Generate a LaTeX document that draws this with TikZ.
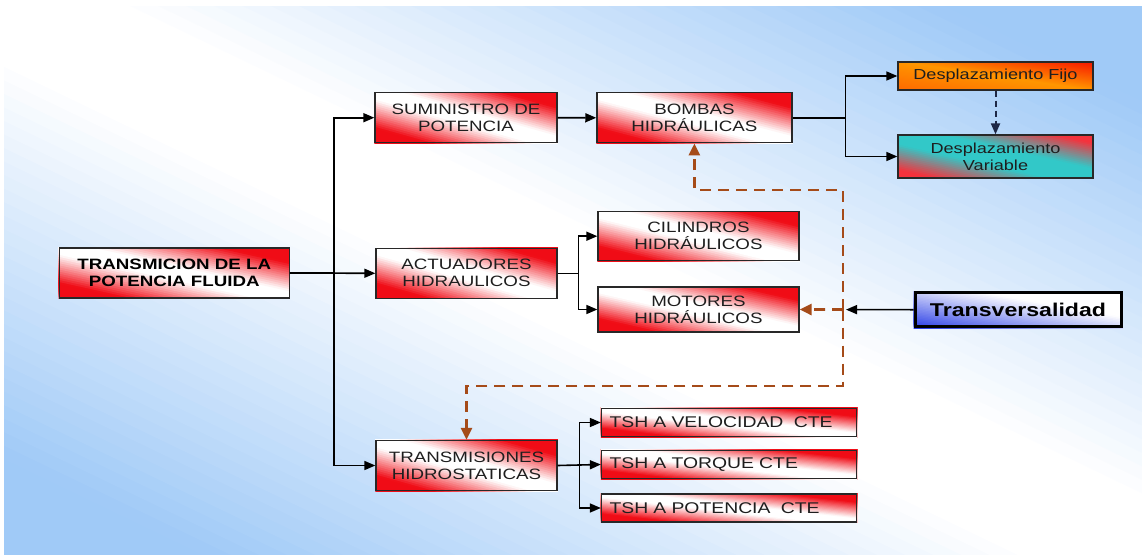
\documentclass[tikz,border=0pt]{standalone}
\usepackage{fontspec}
\setmainfont{Liberation Sans}[FakeStretch=1.25]
\usetikzlibrary{arrows.meta}

\pgfdeclarelayer{page}
\pgfdeclarelayer{fills}
\pgfsetlayers{page,fills,main}

\definecolor{bgblue}{RGB}{160,202,247}
\definecolor{boxred}{RGB}{240,12,22}
\definecolor{frame}{RGB}{40,40,40}
\definecolor{ink}{RGB}{30,30,30}
\definecolor{linkbrown}{RGB}{165,75,25}
\definecolor{fijoorange}{RGB}{255,150,0}
\definecolor{fijored}{RGB}{248,30,0}
\definecolor{fijolow}{RGB}{255,105,0}
\definecolor{varteal}{RGB}{50,200,200}
\definecolor{varred}{RGB}{245,50,60}
\definecolor{trvblue}{RGB}{40,60,230}
\definecolor{navyline}{RGB}{30,40,70}

% Tone along the wash: #1 runs from -1 (lower left corner) through 0
% (upper-left/lower-right diagonal) to 1 (upper right corner).
\newcommand\redtone[1]{\pgfmathsetmacro\wp{max(0,min(100,(abs(#1)-0.14)/0.56*100))}%
  \colorlet{washcol}{boxred!\wp!white}}
\newcommand\tealtone[1]{\pgfmathsetmacro\wp{max(0,min(100,(abs(#1)-0.22)/0.58*100))}%
  \colorlet{washcol}{varred!\wp!varteal}}
\newcommand\bgtone[1]{\pgfmathsetmacro\wp{max(0,min(100,(abs(#1)-0.10)/0.72*100))}%
  \colorlet{washcol}{bgblue!\wp!white}}
\newcommand\bluetone[1]{\pgfmathsetmacro\wp{max(0,min(100,(#1+1)/1.3*100))}%
  \colorlet{washcol}{white!\wp!trvblue}}
\newcommand\orangetone[1]{%
  \ifdim #1pt<0pt
    \pgfmathsetmacro\wp{max(0,min(100,(#1+1)*100))}%
    \colorlet{washcol}{fijoorange!\wp!fijolow}%
  \else
    \pgfmathsetmacro\wp{max(0,min(100,#1*110))}%
    \colorlet{washcol}{fijored!\wp!fijoorange}%
  \fi}

% Fill node #1 with a wash of #3 bands, coloured by the tone command #2.
\newcommand\diagwash[3]{%
  \pgfpointdiff{\pgfpointanchor{#1}{south west}}{\pgfpointanchor{#1}{north east}}%
  \pgfgetlastxy{\dwW}{\dwH}%
  \pgfmathsetmacro\dwx{\dwW/2}%
  \pgfmathsetmacro\dwy{\dwH/2}%
  \begin{scope}
    \clip (#1.south west) rectangle (#1.north east);
    \begin{scope}[shift={(#1.center)}, x=\dwx pt, y=-\dwy pt]
      \foreach \i in {0,...,#3} {
        \pgfmathsetmacro\ta{-1+2*(\i+0.5)/(#3+1)}%
        \pgfmathsetmacro\aa{\i==0 ? -3 : 2*(-1+2*\i/(#3+1))}%
        #2{\ta}%
        \fill[washcol] (-3,{-3-\aa}) -- (3,{3-\aa}) -- (3,-30) -- (-3,-30) -- cycle;
      }
    \end{scope}
  \end{scope}}

\tikzset{
  box/.style={draw=frame, line width=1.3pt, text=ink, align=center,
    inner sep=0pt, font=\fontsize{15}{17}\selectfont},
  tshbox/.style={box, align=left, inner xsep=8pt, text width=239pt,
    minimum height=28pt, font=\fontsize{15.5}{17}\selectfont},
  smallbox/.style={box, font=\fontsize{14.5}{17}\selectfont},
  trvbox/.style={draw=black, line width=3pt, inner sep=0pt,
    font=\bfseries\fontsize{18.5}{20}\selectfont},
  arr/.style={draw=black, line width=1.6pt,
    -{Triangle[length=11pt,width=9pt]}},
  brownarr/.style={draw=linkbrown, line width=2.8pt,
    dash pattern=on 11pt off 7pt,
    -{Triangle[length=12pt,width=11pt]}},
  navyarr/.style={draw=navyline, line width=2pt,
    dash pattern=on 6pt off 4pt,
    -{Triangle[length=11pt,width=9pt]}}
}

\begin{document}
\begin{tikzpicture}[x=1pt,y=-1pt]
  \useasboundingbox (0,0) rectangle (1142,554);
  \node[inner sep=0pt, outer sep=0pt, minimum width=1138pt, minimum height=548pt]
    (bgarea) at (573,280) {};

  % boxes
  \node[box, minimum width=230pt, minimum height=50pt,
    font=\bfseries\fontsize{15}{17}\selectfont, text=black]
    (trans) at (174.3,273) {TRANSMICION DE LA\\POTENCIA FLUIDA};

  \node[box, minimum width=182pt, minimum height=50pt]
    (sum) at (466,117.7) {SUMINISTRO DE\\POTENCIA};
  \node[box, minimum width=195pt, minimum height=50pt]
    (bom) at (694.4,117.8) {BOMBAS\\HIDRÁULICAS};
  \node[smallbox, minimum width=195pt, minimum height=28pt]
    (fijo) at (995.5,76) {Desplazamiento Fijo};
  \node[smallbox, minimum width=195pt, minimum height=43pt]
    (var) at (995.5,156.5) {Desplazamiento\\Variable};

  \node[box, minimum width=181pt, minimum height=50pt]
    (act) at (466.5,273.3) {ACTUADORES\\HIDRAULICOS};
  \node[box, minimum width=201pt, minimum height=49pt]
    (cil) at (698.5,236.2) {CILINDROS\\HIDRÁULICOS};
  \node[box, minimum width=201pt, minimum height=45pt]
    (mot) at (698.5,309.5) {MOTORES\\HIDRÁULICOS};

  \node[trvbox, minimum width=206pt, minimum height=34pt]
    (trv) at (1018,309.7) {Transversalidad};

  \node[box, minimum width=181pt, minimum height=50pt]
    (tsh) at (466.5,465.5) {TRANSMISIONES\\HIDROSTATICAS};
  \node[tshbox] (v1) at (729,422.5) {TSH A VELOCIDAD\ \ CTE};
  \node[tshbox] (v2) at (729,464.5) {TSH A TORQUE CTE};
  \node[tshbox] (v3) at (729,508) {TSH A POTENCIA\ \ CTE};

  % page with its diagonal wash
  \begin{pgfonlayer}{page}
    \fill[white] (0,0) rectangle (1142,554);
    \diagwash{bgarea}{\bgtone}{80}
  \end{pgfonlayer}

  % box fills, laid under the frames and labels
  \begin{pgfonlayer}{fills}
    \foreach \b in {trans, sum, bom, act, cil, mot, tsh, v1, v2, v3}
      {\diagwash{\b}{\redtone}{48}}
    \diagwash{fijo}{\orangetone}{48}
    \diagwash{var}{\tealtone}{48}
    \diagwash{trv}{\bluetone}{48}
  \end{pgfonlayer}

  % main tree
  \draw[arr] (trans.east) -- ++(44,0) |- (sum.west);
  \draw[arr] (trans.east) -- (act.west);
  \draw[arr] (trans.east) -- ++(44,0) |- (tsh.west);

  \draw[arr] (sum.east) -- (bom.west);
  \draw[arr] (bom.east) -- ++(53,0) |- (fijo.west);
  \draw[arr] (bom.east) -- ++(53,0) |- (var.west);
  \draw[navyarr] (fijo.south) -- (var.north);

  \draw[arr] (act.east) -- ++(21,0) |- (cil.west);
  \draw[arr] (act.east) -- ++(21,0) |- (mot.west);

  \draw[arr] (tsh.east) -- ++(22,0) |- (v1.west);
  \draw[arr] (tsh.east) -- (v2.west);
  \draw[arr] (tsh.east) -- ++(22,0) |- (v3.west);

  % cross links
  \coordinate (hub) at (843,309.6);
  \draw[arr] (trv.west) -- ([xshift=3pt]hub);
  \draw[brownarr] (hub) -- (mot.east);
  \draw[brownarr] (hub) -- (843,190) -| (bom.south);
  \draw[brownarr] (hub) -- (843,386) -| (tsh.north);
\end{tikzpicture}
\end{document}
